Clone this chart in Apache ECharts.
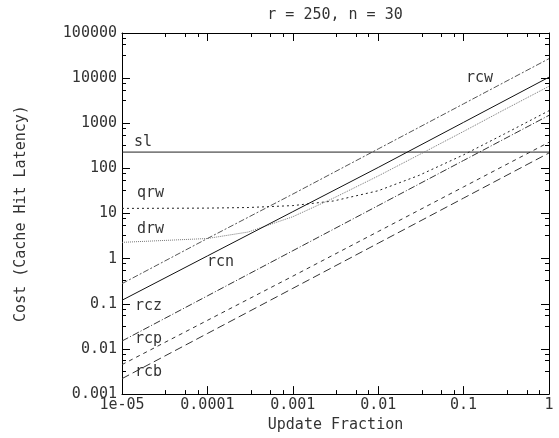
<!DOCTYPE html>
<html>
<head>
<meta charset="utf-8">
<script src="https://cdn.jsdelivr.net/npm/echarts@6/dist/echarts.min.js"></script>
<style>
  html, body { margin: 0; padding: 0; background: #fff; }
  #chart { width: 559px; height: 438px; }
</style>
</head>
<body>
<div id="chart"></div>
<script>
// tick labels as printed on the axes
const xTickLabels = ['1e-05', '0.0001', '0.001', '0.01', '0.1', '1'];
const yTickLabels = ['0.001', '0.01', '0.1', '1', '10', '100', '1000', '10000', '100000'];

// x positions the straight curves were read at
const xDecades = [1e-5, 1e-4, 1e-3, 1e-2, 1e-1, 1];
const rcw = [0.28, 2.8, 27, 270, 2700, 27000];
const rcn = [0.12, 1.15, 11, 105, 1050, 10500];
const rcz = [0.015, 0.15, 1.5, 15, 150, 1500];
const rcp = [0.0045, 0.043, 0.41, 4, 39, 380];
const rcb = [0.0022, 0.022, 0.22, 2.2, 22, 220];

// x positions the bent curves were read at
const xCurve = [1e-5, 1e-4, 3e-4, 1e-3, 3e-3, 1e-2, 3e-2, 1e-1, 3e-1, 1];
const qrw = [13, 13.2, 13.6, 15, 19, 32, 70, 200, 580, 1900];
const drw = [2.3, 2.8, 3.9, 8.5, 22, 68, 200, 660, 2000, 6600];

const slX = [1e-5, 1];
const sl = [230, 230];

const FONT = 'DejaVu Sans Mono';
const INK = '#333';

const pairs = (xs, ys) => xs.map((x, i) => [x, ys[i]]);
const logLabel = (labels, base) => v => labels[Math.round(Math.log10(v)) - base] || '';

const chart = echarts.init(document.getElementById('chart'), null, { renderer: 'canvas' });

const axisCommon = {
    type: 'log',
    logBase: 10,
    axisLine: { show: true, lineStyle: { color: '#000', width: 1 } },
    axisTick: { show: true, inside: true, length: 8, lineStyle: { color: '#000' } },
    minorTick: { show: true, splitNumber: 4, length: 4, lineStyle: { color: '#000' } },
    splitLine: { show: false },
    minorSplitLine: { show: false },
};

const mkLine = (name, data, color, type) => ({
    name,
    type: 'line',
    data,
    showSymbol: false,
    symbol: 'none',
    silent: true,
    animation: false,
    lineStyle: { color, width: 1, type },
});

const txt = (text, x, y) => ({
    type: 'text', x, y,
    style: { text, font: '15px ' + FONT, fill: INK, textVerticalAlign: 'middle' },
});

const option = {
    animation: false,
    grid: { left: 122, right: 10, top: 33, bottom: 41 },
    xAxis: [
        {
            ...axisCommon,
            min: 1e-5,
            max: 1,
            splitNumber: 5,
            name: 'Update Fraction',
            nameLocation: 'middle',
            nameGap: 20,
            nameTextStyle: { fontFamily: FONT, fontSize: 15, color: INK },
            axisLabel: {
                fontFamily: FONT, fontSize: 15, color: INK, margin: 4,
                formatter: logLabel(xTickLabels, -5),
                showMinLabel: true, showMaxLabel: true,
            },
        },
        {
            ...axisCommon,
            position: 'top',
            min: 1e-5,
            max: 1,
            splitNumber: 5,
            axisLabel: { show: false },
        },
    ],
    yAxis: [
        {
            ...axisCommon,
            min: 0.001,
            max: 100000,
            splitNumber: 8,
            name: 'Cost (Cache Hit Latency)',
            nameLocation: 'middle',
            nameGap: 93,
            nameTextStyle: { fontFamily: FONT, fontSize: 15, color: INK },
            axisLabel: {
                fontFamily: FONT, fontSize: 15, color: INK, margin: 5,
                formatter: logLabel(yTickLabels, -3),
                showMinLabel: true, showMaxLabel: true,
            },
        },
        {
            ...axisCommon,
            position: 'right',
            min: 0.001,
            max: 100000,
            splitNumber: 8,
            axisLabel: { show: false },
        },
    ],
    graphic: [
        { type: 'text', x: 335, y: 15, style: { text: 'r = 250, n = 30', font: '15px ' + FONT, fill: INK, textAlign: 'center', textVerticalAlign: 'middle' } },
        txt('rcw', 466, 78),
        txt('sl', 134, 142),
        txt('qrw', 137, 193),
        txt('drw', 137, 229),
        txt('rcn', 207, 262),
        txt('rcz', 135, 306),
        txt('rcp', 135, 339),
        txt('rcb', 135, 372),
    ],
    series: [
        mkLine('rcw', pairs(xDecades, rcw), '#555', [6, 2, 2, 2]),
        mkLine('sl', pairs(slX, sl), '#222', 'solid'),
        mkLine('qrw', pairs(xCurve, qrw), '#222', [2, 3]),
        mkLine('drw', pairs(xCurve, drw), '#777', [1, 1]),
        mkLine('rcn', pairs(xDecades, rcn), '#111', 'solid'),
        mkLine('rcz', pairs(xDecades, rcz), '#333', [7, 2, 1, 2]),
        mkLine('rcp', pairs(xDecades, rcp), '#333', [4, 4]),
        mkLine('rcb', pairs(xDecades, rcb), '#333', [8, 4]),
    ],
};

chart.setOption(option);
</script>
</body>
</html>
